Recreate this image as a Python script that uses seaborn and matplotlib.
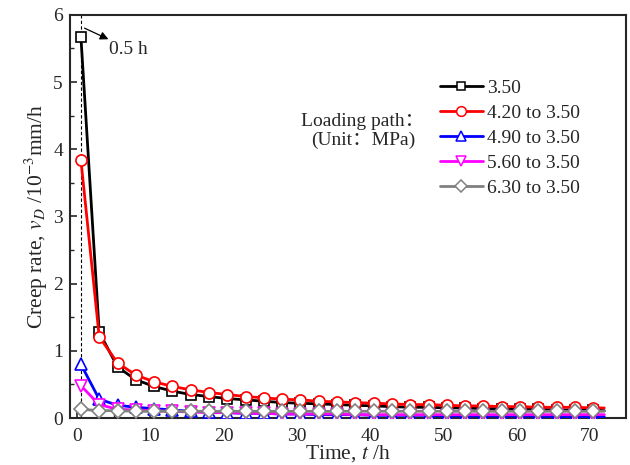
import numpy as np
import pandas as pd
import matplotlib
matplotlib.use("Agg")
import matplotlib.pyplot as plt
from matplotlib.lines import Line2D
from matplotlib.transforms import IdentityTransform
import seaborn as sns

time = [0.5, 3, 5.5, 8, 10.5, 13, 15.5, 18, 20.5, 23, 25.5, 28, 30.5, 33, 35.5,
        38, 40.5, 43, 45.5, 48, 50.5, 53, 55.5, 58, 60.5, 63, 65.5, 68, 70.5, 72]
labels = ["3.50", "4.20 to 3.50", "4.90 to 3.50", "5.60 to 3.50", "6.30 to 3.50"]
s1 = [5.67, 1.28, 0.76, 0.57, 0.47, 0.40, 0.35, 0.32, 0.29, 0.27, 0.25, 0.23, 0.22, 0.21, 0.20,
      0.19, 0.18, 0.17, 0.16, 0.16, 0.15, 0.15, 0.14, 0.14, 0.13, 0.13, 0.12, 0.12, 0.12, 0.11]
s2 = [3.84, 1.21, 0.82, 0.64, 0.54, 0.47, 0.42, 0.38, 0.35, 0.32, 0.30, 0.28, 0.27, 0.25, 0.24,
      0.23, 0.22, 0.21, 0.20, 0.20, 0.19, 0.18, 0.18, 0.17, 0.17, 0.16, 0.16, 0.16, 0.15, 0.15]
s3 = [0.80, 0.28, 0.19, 0.16, 0.14, 0.12, 0.10, 0.09, 0.08, 0.07, 0.07, 0.06, 0.06, 0.05, 0.05,
      0.05, 0.04, 0.04, 0.04, 0.04, 0.03, 0.03, 0.03, 0.03, 0.03, 0.03, 0.02, 0.02, 0.02, 0.02]
s4 = [0.48, 0.20, 0.13, 0.12, 0.11, 0.10, 0.09, 0.08, 0.08, 0.07, 0.07, 0.06, 0.06, 0.06, 0.06,
      0.05, 0.05, 0.05, 0.05, 0.05, 0.05, 0.05, 0.05, 0.05, 0.05, 0.05, 0.05, 0.05, 0.05, 0.05]
s5 = [0.13, 0.11, 0.11, 0.10, 0.10, 0.10, 0.10, 0.10, 0.10, 0.10, 0.10, 0.10, 0.10, 0.10, 0.10,
      0.10, 0.10, 0.10, 0.10, 0.10, 0.10, 0.10, 0.10, 0.10, 0.10, 0.10, 0.10, 0.10, 0.10, 0.10]
series = [s1, s2, s3, s4, s5]
colors = ["black", "red", "blue", "magenta", "gray"]
markers = ["s", "o", "^", "v", "D"]
msizes = [7, 8, 8, 8, 7]

sns.set_style("ticks")
plt.rcParams["font.family"] = ["Liberation Serif", "Noto Sans CJK SC", "DejaVu Sans"]
plt.rcParams["mathtext.fontset"] = "stix"
plt.rcParams["xtick.direction"] = "in"
plt.rcParams["ytick.direction"] = "in"

fig = plt.figure(figsize=(6.3, 4.65), dpi=100)
ax = fig.add_axes([0.111, 0.101, 0.883, 0.867])

ax.axvline(0.5, color="black", linestyle="--", linewidth=0.8, dashes=(3, 2), zorder=1)

handles = []
for lab, vals, c, m, ms in zip(labels, series, colors, markers, msizes):
    df = pd.DataFrame({"t": time, "v": vals})
    sns.lineplot(data=df, x="t", y="v", ax=ax, color=c, marker=m, markersize=ms,
                 markerfacecolor="white", markeredgecolor=c, markeredgewidth=1.2,
                 linewidth=2, markevery=list(range(len(time) - 1)), zorder=3, legend=False)
    handles.append(Line2D([], [], color=c, marker=m, markersize=ms - 1,
                          markerfacecolor="white", markeredgecolor=c,
                          markeredgewidth=1.1, linewidth=2, label=lab))

ax.set_xlim(-1, 75)
ax.set_ylim(0, 6)
ax.set_xticks([0, 10, 20, 30, 40, 50, 60, 70])
ax.set_xticks(np.arange(0, 75, 5), minor=True)
ax.set_yticks([0, 1, 2, 3, 4, 5, 6])
ax.set_yticks(np.arange(0, 6.01, 0.5), minor=True)
ax.tick_params(axis="both", which="major", length=5, width=1.2, labelsize=14, pad=5)
ax.tick_params(axis="x", which="major", pad=7)
ax.tick_params(axis="both", which="minor", length=3, width=1.0)
for sp in ax.spines.values():
    sp.set_linewidth(1.5)
    sp.set_visible(True)

ax.set_xlabel("Time, $t$ /h", fontsize=15.5, labelpad=-1)
ax.set_ylabel("Creep rate, $v_D$ /10$^{-3}$mm/h", fontsize=15.5, labelpad=2)

ax.annotate("", xy=(4.6, 5.62), xytext=(0.65, 5.82),
            arrowprops=dict(arrowstyle="-|>", color="black", lw=0.9, mutation_scale=12))
ax.text(4.4, 5.48, "0.5 h", fontsize=14, ha="left", va="center")

leg = ax.legend(handles=handles, loc="upper left", bbox_to_anchor=(0.651, 0.86),
                frameon=False, fontsize=14, handlelength=2.2, labelspacing=0.38,
                handletextpad=0.25, borderaxespad=0, numpoints=1)

ax.text(363, 465 - 131, "Loading path：\n(Unit：MPa)", transform=IdentityTransform(),
        fontsize=14, ha="center", va="center", linespacing=1.2)

fig.savefig("out.png", dpi=100)
